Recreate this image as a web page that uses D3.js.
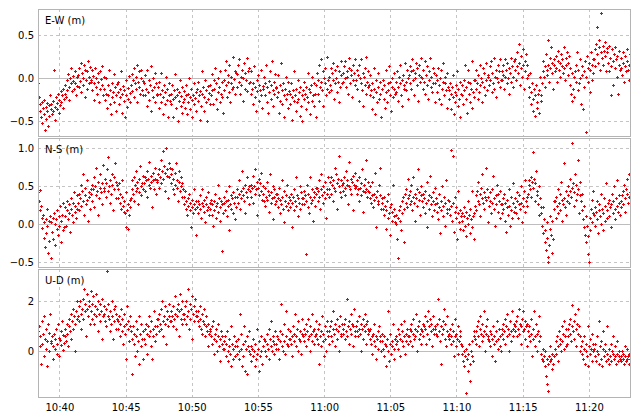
<!DOCTYPE html>
<html>
<head>
<meta charset="utf-8">
<script src="https://cdn.jsdelivr.net/npm/d3@7/dist/d3.min.js"></script>
<style>
body { margin: 0; background: #fff; }
#chart text { font-family: "DejaVu Sans", Verdana, sans-serif; font-size: 10px; fill: #000; }
</style>
</head>
<body>
<div id="chart"></div>
<script>
// samples every 3 s from 10:38:24, one row per minute, values in cm
var startTime = new Date(2020, 0, 1, 10, 38, 24);
var stepSec = 3;

var ewCm = [
-5,-22,-38,-30,-45,-28,-52,-35,-41,-25,-60,-33,-47,-29,-38,-55,-31,-44,-20,-36,
-30,-42,-26,-38,10,-33,-48,-22,-29,-36,-18,-40,-25,-31,-15,-28,-20,-34,-12,-24,
-18,-8,-22,-2,-14,5,-10,-25,0,-6,12,-15,-3,3,-12,8,-5,-20,2,-9,
4,-10,12,-3,18,-16,6,0,-8,15,-22,10,-2,8,-12,20,1,-6,13,-4,
-2,10,-14,3,-25,-6,12,-10,0,-18,6,-4,-28,8,-12,-1,14,-8,-20,2,
-12,-25,0,-18,-35,-8,-20,10,-30,-14,-42,-5,-22,-16,5,-28,-10,-38,-19,-7,
-16,-4,-30,-12,-22,8,-40,-18,-9,-26,-14,-45,-2,-20,-33,-11,-24,3,-17,-28,
-8,5,-15,-2,12,-22,-6,2,-12,15,-28,-4,8,-10,-18,0,10,-14,-3,-20,
-6,-20,4,-12,-32,10,-16,-2,-25,-8,14,-38,-14,0,-22,-10,6,-28,-5,-18,
-20,-10,-35,-4,-18,-28,6,-14,-42,-22,-8,-30,-16,2,-25,-12,-45,-19,-6,-26,
-18,-30,-8,-24,-45,-14,-22,5,-35,-20,-12,-50,-26,-16,-2,-32,-21,-40,-10,-28,
-24,-15,-34,-20,-8,-42,-18,-28,0,-22,-36,-12,-25,-45,-19,-30,-6,-23,-38,-16,
-12,-26,-4,-20,-48,-15,-32,8,-18,-10,-38,-22,-2,-28,-14,-50,-9,-24,-17,-30,
-8,-20,5,-14,-30,-2,-12,12,-24,-6,-36,-16,0,-10,-28,8,-18,-4,-22,-40,
-2,-14,10,-8,20,-22,-4,4,-16,15,-28,-6,2,-12,25,-10,-1,8,-18,6,
5,-10,16,-4,22,-18,2,-8,10,-26,0,18,-12,6,-2,24,-15,8,-6,12,
-4,-18,8,-12,-30,-6,14,-22,-10,-38,-2,-15,4,-26,-8,-14,10,-20,-35,-9,
-12,2,-20,-6,16,-28,-10,-40,-3,-16,8,-24,-8,20,-14,-32,-4,-18,5,-11,
-10,-22,4,-16,-40,-8,-26,18,-14,-30,-6,-20,-45,-12,2,-24,-18,-35,-4,-15,
-18,-30,-6,-22,-48,-14,-26,8,-20,-38,-12,-28,-2,-24,-16,-44,-10,-32,-20,-50,
-14,-24,-4,-18,-36,-10,-22,6,-28,-12,-42,-16,-8,-26,2,-20,-32,-6,-18,-45,
-8,6,-18,-2,16,-26,-10,22,-4,-14,8,-32,0,-6,12,-20,-12,25,-2,-16,
2,-8,12,-14,6,-2,18,-24,-6,10,0,-16,14,-4,-28,8,-10,4,20,-6,
6,-4,14,0,20,-10,8,2,-18,12,24,-6,4,10,-22,16,-2,6,22,-8,
-2,10,-12,4,-26,16,0,-6,22,-14,6,-32,2,-8,12,-18,25,-4,8,-10,
-8,-20,4,-14,-36,-6,-22,12,-12,-42,-2,-16,-28,6,-10,-24,-4,-18,-45,-12,
-12,-2,-24,-8,-34,10,-16,-28,-6,-14,14,-20,-4,-38,-10,0,-22,-12,6,-18,
-4,-16,8,-10,-26,2,-6,16,-20,-2,-32,4,-12,-8,18,-14,-4,10,-24,0,
4,-6,14,-12,8,22,-2,10,-20,6,0,18,-8,12,-26,4,16,-4,24,2,
0,-12,10,-4,20,-18,4,-8,14,-24,-2,8,24,-10,2,-16,12,-6,6,-28,
-6,4,-16,-2,12,-24,-8,0,-30,10,-12,-4,18,-20,-6,2,-14,-34,6,-10,
-14,-24,-6,-18,-36,-10,4,-22,-42,-16,-28,-8,-20,8,-32,-12,-24,-45,-4,-18,
-20,-8,-30,-2,-14,16,-24,-10,-40,-4,10,-18,-28,-6,-12,20,-34,-16,-2,-22,
-2,-12,10,-6,-24,4,-16,16,-8,0,-28,-4,12,-10,6,-20,-2,18,-14,2,
4,-8,14,-2,20,-16,6,-6,24,-12,2,10,-22,0,16,-4,8,-10,22,-2,
8,-2,16,4,-12,22,2,10,-6,18,0,12,-18,6,24,-4,14,2,-10,20,
10,22,-2,14,30,6,18,40,-8,12,26,2,34,16,-12,20,8,28,0,15,
4,-10,-22,6,-16,-30,-6,-24,-38,-12,-20,-44,-8,-28,-34,-18,-40,-14,2,-26,
-20,-6,8,20,2,14,-10,28,10,4,45,16,-4,24,12,36,6,18,-12,22,
16,8,26,12,-4,20,32,10,18,2,28,14,22,6,36,12,-2,24,16,30,
18,4,26,-8,12,-18,6,-26,-12,2,-22,8,-4,16,30,-14,10,-6,22,0,
-30,4,14,-36,8,-10,20,-62,2,26,12,-4,18,-16,10,30,-2,16,6,22,
22,34,14,40,28,60,18,36,44,10,30,76,24,38,16,32,42,26,8,35,
30,18,38,8,24,-20,14,34,20,-8,28,12,36,22,2,26,-18,16,32,10,
12,24,4,18,30,-4,14,26,8,20,34,10,-2,16,28,22,6,18,32,25
];

var nsCm = [
42,30,18,45,24,8,-5,12,-18,2,-30,6,-12,20,-2,-38,4,-22,10,-45,
2,-10,8,-20,14,0,-28,6,-6,18,-14,10,-2,24,-24,4,12,-8,28,-4,
10,22,-2,18,30,6,26,14,-10,20,34,12,28,2,42,16,24,8,38,20,
28,40,18,34,52,24,44,30,66,12,38,48,26,58,32,4,42,36,20,46,
40,52,30,46,62,22,50,38,74,44,12,56,34,48,66,42,26,54,78,44,
48,60,36,54,72,44,88,50,28,58,40,66,52,18,62,46,80,56,34,52,
46,34,54,28,40,20,36,58,24,16,30,14,42,-4,18,26,-6,12,22,32,
34,46,58,40,62,30,52,44,70,48,56,26,60,42,76,50,38,54,64,46,
54,62,44,58,70,36,60,52,82,48,64,56,22,58,68,46,60,74,40,56,
58,66,48,72,62,84,54,70,96,60,76,44,68,100,64,72,34,80,62,74,
66,54,72,46,60,40,68,52,80,48,58,30,56,70,44,62,50,36,54,46,
36,26,44,20,30,12,34,24,40,18,28,-4,22,32,14,46,26,20,30,-15,
22,30,14,26,38,20,8,28,46,24,16,32,2,26,36,18,22,42,12,28,
20,32,12,26,-2,30,18,40,24,8,28,52,16,34,22,4,30,-35,26,14,
28,36,18,30,44,10,32,24,50,-8,26,38,20,34,14,42,28,6,36,22,
36,46,28,40,58,20,44,34,70,38,48,30,52,14,42,62,36,46,26,50,
44,52,36,48,64,28,50,40,72,46,56,12,48,60,38,54,44,68,32,50,
40,30,48,24,36,56,32,44,16,38,66,28,42,34,50,6,36,46,26,40,
30,40,22,34,48,14,32,26,58,36,20,44,2,30,38,24,52,28,18,36,
32,22,40,28,-4,36,18,46,30,62,24,38,10,34,28,50,20,42,26,34,
34,44,26,38,-40,30,52,22,40,14,36,62,28,46,32,4,42,36,24,48,
40,48,30,44,58,36,20,46,66,38,50,28,42,56,34,8,46,40,62,36,
46,56,40,62,52,30,58,48,74,44,66,54,20,60,50,90,42,58,36,52,
54,44,62,48,38,70,52,58,26,50,82,46,60,40,56,64,18,52,68,48,
50,40,58,46,62,30,48,54,38,72,44,16,52,60,42,84,46,36,56,44,
42,34,50,28,38,56,22,40,32,68,36,-4,44,30,26,52,38,74,20,34,
28,20,36,12,24,-6,18,30,8,40,14,22,-14,26,4,16,52,10,20,2,
0,12,-20,8,-45,18,4,24,-8,30,14,36,20,-24,40,28,46,22,60,34,
38,26,44,30,52,18,36,62,28,40,4,34,46,24,72,32,42,12,38,50,
30,40,22,34,14,44,28,56,-4,32,38,20,64,26,36,10,42,30,18,48,
26,34,16,28,6,40,22,-12,30,18,50,24,10,36,-2,28,58,20,14,32,
20,30,12,98,24,4,90,28,-10,16,36,8,22,-20,14,44,2,18,-6,10,
4,14,-8,10,22,-2,16,-16,8,30,0,12,-12,20,6,44,-4,10,-20,14,
24,38,18,44,30,56,26,40,10,48,34,66,28,42,20,36,74,32,46,2,
36,24,42,30,14,46,28,64,20,34,-2,38,26,52,16,40,30,8,44,26,
26,14,34,20,40,4,28,-10,22,32,12,46,24,-2,18,36,8,28,54,16,
22,34,14,30,42,8,26,38,20,50,28,2,34,24,44,16,58,30,36,24,
40,52,58,46,62,36,56,95,48,60,30,54,70,44,38,26,50,12,34,22,
14,-2,22,-12,6,-24,-8,-34,2,-18,-44,-50,-28,-6,10,-14,-38,4,-20,30,
20,30,8,36,24,46,14,28,40,18,56,32,4,26,80,34,22,44,12,30,
38,50,28,44,60,36,107,48,54,24,42,66,32,52,40,84,46,14,56,38,
30,18,40,6,24,-4,-14,10,-24,-2,-40,-16,-50,8,-8,20,2,32,14,44,
12,22,-2,16,30,6,-12,18,26,10,40,0,20,-8,14,34,4,24,54,8,
18,28,10,32,22,-4,26,40,14,30,50,20,6,34,24,58,16,28,38,12,
30,22,38,44,26,52,34,16,46,40,60,28,36,66,42,4,50,72,38,85
];

var udCm = [
80,100,20,60,-50,120,30,70,-20,140,50,10,90,-60,40,110,0,75,150,35,
40,60,20,-30,70,50,10,90,-10,30,110,55,-20,45,80,25,120,5,65,35,
60,90,40,110,70,20,100,130,80,150,50,120,170,90,140,0,110,160,130,200,
140,180,120,200,150,90,170,210,130,250,160,190,60,170,230,140,200,180,110,240,
160,190,130,220,150,110,180,140,230,170,80,200,150,120,190,160,50,210,140,180,
150,120,170,100,320,140,190,130,80,160,110,200,140,50,170,120,180,90,150,130,
120,90,140,60,110,170,80,130,30,100,150,70,-30,110,180,90,120,40,140,100,
80,50,-90,100,30,70,-20,120,60,0,90,40,140,-50,70,20,110,50,-30,80,
50,90,30,110,70,-10,100,60,140,80,20,120,-30,90,60,160,40,100,70,130,
100,130,80,150,110,170,90,200,120,60,140,110,180,30,130,160,100,140,190,120,
120,160,140,100,180,130,220,150,90,170,140,190,60,160,230,130,170,110,200,150,
150,130,180,110,200,140,250,160,90,190,130,170,220,50,150,180,120,210,140,160,
140,120,160,100,180,130,90,150,70,120,110,170,60,100,140,80,20,110,70,90,
80,60,100,30,120,50,-10,70,40,90,0,60,110,20,-40,50,80,30,60,10,
40,10,60,-20,30,80,0,-40,20,50,-10,100,-60,30,10,-30,60,20,-20,40,
20,-10,50,0,-30,150,10,70,-60,30,-20,100,40,-80,10,60,-90,20,0,80,
-10,20,-40,10,-20,50,0,-60,30,-30,90,-10,10,-80,40,-20,0,60,-50,20,
20,50,0,40,-20,70,30,10,90,-30,50,20,120,0,40,60,-10,30,80,10,
30,60,10,50,-30,80,40,190,20,70,0,110,40,-10,60,160,30,90,20,50,
50,80,30,60,-20,100,40,70,150,20,60,90,0,120,50,40,80,-10,70,130,
60,90,40,70,110,20,80,50,130,60,0,100,70,40,150,80,30,90,60,120,
70,50,90,30,-50,110,60,80,20,140,40,70,-20,100,50,0,80,120,60,30,
80,100,60,120,40,90,160,70,110,20,90,130,50,80,0,100,140,70,60,110,
90,70,110,50,130,80,210,60,100,120,30,90,150,70,110,20,100,170,80,60,
100,80,120,60,90,140,70,110,0,90,130,50,100,150,80,110,30,120,70,90,
80,50,90,30,60,-10,70,40,110,20,60,-30,50,80,10,100,40,60,0,70,
40,10,60,-20,30,-60,20,50,0,160,-40,30,70,-10,40,20,110,-30,10,50,
30,60,40,90,10,70,-20,50,110,40,80,20,120,60,-10,70,40,90,30,60,
60,90,40,80,110,20,70,130,50,90,60,150,0,80,100,50,120,70,30,90,
80,110,60,100,140,90,30,120,70,160,100,50,130,80,110,20,90,140,70,100,
90,70,110,60,210,80,130,40,100,-50,70,120,90,170,50,110,20,80,140,60,
70,50,90,30,60,110,40,80,-20,60,130,20,70,50,100,-10,40,80,60,30,
20,-10,-40,0,-60,-20,10,-165,-30,-80,-10,30,-50,-120,0,-20,40,-40,60,80,
50,80,30,100,60,120,20,90,140,70,40,110,60,160,80,0,100,70,130,50,
60,40,80,20,70,-20,50,100,30,60,-40,80,40,120,10,50,90,20,60,0,
70,90,50,110,80,130,30,100,60,150,90,0,70,120,80,40,160,90,60,110,
100,80,120,60,140,90,170,70,110,30,100,130,80,160,90,50,120,100,20,110,
80,60,100,40,130,70,-20,90,50,160,60,20,110,70,0,80,40,140,60,-10,
-10,-30,10,-40,-20,-60,0,-100,-30,-130,-50,-160,-20,-40,20,-30,-70,-10,-50,-20,
-20,10,40,-10,60,20,-40,80,30,50,0,100,40,70,10,120,60,20,90,30,
60,90,110,70,130,40,100,185,80,120,50,150,90,20,110,170,70,100,60,0,
20,-10,40,-30,10,60,-50,0,30,-20,100,-60,20,50,-10,10,-40,70,0,30,
10,-20,30,-40,0,60,-10,120,-50,20,-30,40,-60,10,80,-20,0,30,-40,100,
-10,-30,10,-50,-20,30,-40,0,-10,60,-30,-20,20,-50,-10,40,-40,-20,0,-30,
-20,-40,0,-30,-10,-50,-20,20,-40,-30,10,-20,-50,-10,-30,50,-40,-20,-30,0
];

var panelTitles = ['E-W (m)', 'N-S (m)', 'U-D (m)'];
var ewTicks = [-0.5, 0, 0.5];
var nsTicks = [-0.5, 0, 0.5, 1.0];
var udTicks = [0, 2];
var timeTickMinutes = ['10:40','10:45','10:50','10:55','11:00','11:05','11:10','11:15','11:20'];

var width = 644, height = 418;
var left = 38, right = 631;

var svg = d3.select('#chart').append('svg')
	.attr('width', width)
	.attr('height', height);

var x = d3.scaleTime()
	.domain([new Date(2020, 0, 1, 10, 38, 23), new Date(2020, 0, 1, 11, 23, 11)])
	.range([left, right]);

var parseHM = d3.timeParse('%H:%M');
var timeTicks = timeTickMinutes.map(function(s) {
	var t = parseHM(s);
	return new Date(2020, 0, 1, t.getHours(), t.getMinutes());
});

var panels = [
	{title: panelTitles[0], data: ewCm, ticks: ewTicks, top: 9, bottom: 137, domain: [-0.683, 0.806], fmt: d3.format('.1f')},
	{title: panelTitles[1], data: nsCm, ticks: nsTicks, top: 138, bottom: 268, domain: [-0.581, 1.136], fmt: d3.format('.1f')},
	{title: panelTitles[2], data: udCm, ticks: udTicks, top: 269, bottom: 398, domain: [-1.87, 3.29], fmt: d3.format('d')}
];

panels.forEach(function(p, k) {
	var y = d3.scaleLinear().domain(p.domain).range([p.bottom, p.top]);
	var g = svg.append('g');

	g.append('clipPath').attr('id', 'clip' + k)
		.append('rect')
		.attr('x', left).attr('y', p.top)
		.attr('width', right - left).attr('height', p.bottom - p.top);

	// vertical grid
	g.selectAll('.vgrid')
		.data(timeTicks)
		.enter().append('line')
		.attr('x1', function(d) { return Math.round(x(d)) + 0.5; })
		.attr('x2', function(d) { return Math.round(x(d)) + 0.5; })
		.attr('y1', p.top).attr('y2', p.bottom)
		.style('stroke', '#c4c4c4')
		.style('stroke-dasharray', '3,3');

	// horizontal grid, zero line solid
	g.selectAll('.hgrid')
		.data(p.ticks)
		.enter().append('line')
		.attr('x1', left).attr('x2', right)
		.attr('y1', function(d) { return Math.round(y(d)) + 0.5; })
		.attr('y2', function(d) { return Math.round(y(d)) + 0.5; })
		.style('stroke', function(d) { return d === 0 ? '#bdbdbd' : '#c4c4c4'; })
		.style('stroke-dasharray', function(d) { return d === 0 ? null : '3,3'; });

	// plus markers as filled pixel rects
	g.append('g')
		.attr('clip-path', 'url(#clip' + k + ')')
		.selectAll('path')
		.data(p.data)
		.enter().append('path')
		.attr('d', function(d, i) {
			var px = Math.round(x(new Date(startTime.getTime() + i * stepSec * 1000)));
			var py = Math.round(y(d / 100));
			return 'M' + (px - 1) + ',' + py + 'h3v1h-3z' +
				'M' + px + ',' + (py - 1) + 'h1v3h-1z';
		})
		.attr('shape-rendering', 'crispEdges')
		.attr('fill', '#e8000a')
		.attr('stroke', 'none');

	g.append('rect')
		.attr('x', left + 0.5).attr('y', p.top + 0.5)
		.attr('width', right - left - 1).attr('height', p.bottom - p.top - 1)
		.style('fill', 'none')
		.style('stroke', '#b4b4b4');

	var yAxis = d3.axisLeft(y).tickValues(p.ticks).tickSize(0).tickPadding(4).tickFormat(p.fmt);
	g.append('g')
		.attr('transform', 'translate(' + left + ',0)')
		.call(yAxis)
		.call(function(a) { a.select('.domain').remove(); });

	g.append('text')
		.attr('x', 45)
		.attr('y', p.top + 15)
		.text(p.title);
});

var xAxis = d3.axisBottom(x).tickValues(timeTicks).tickSize(0).tickPadding(6).tickFormat(d3.timeFormat('%H:%M'));
svg.append('g')
	.attr('transform', 'translate(0,398)')
	.call(xAxis)
	.call(function(a) { a.select('.domain').remove(); });

svg.selectAll('.tick text').style('font-family', '"DejaVu Sans", Verdana, sans-serif').style('font-size', '10px');
</script>
</body>
</html>
